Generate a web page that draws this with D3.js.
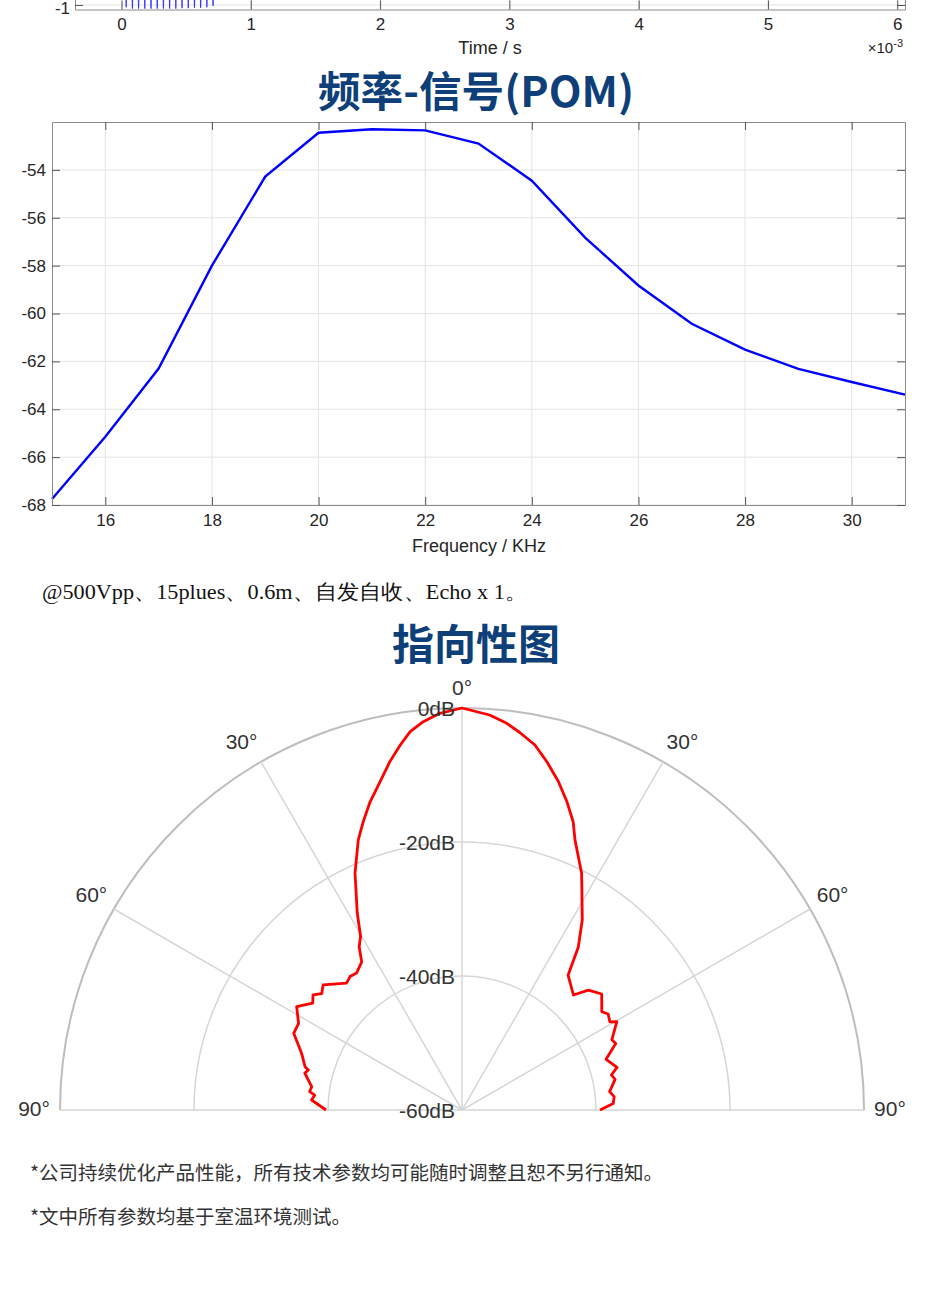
<!DOCTYPE html>
<html>
<head>
<meta charset="utf-8">
<script src="https://cdn.jsdelivr.net/npm/d3@7"></script>
<style>
  body { margin: 0; background: #fff; }
  text { font-family: "Liberation Sans", Arial, sans-serif; }
</style>
</head>
<body>
<script>
// ---- data ----
// cut-off waveform chart (only its bottom edge is visible)
const timeTicks = [0, 1, 2, 3, 4, 5, 6];            // x 10^-3 s
const pulseTime = [0, 0.012, 0.036, 0.060, 0.084, 0.108, 0.132, 0.156, 0.180, 0.204, 0.228,
  0.252, 0.276, 0.300, 0.324, 0.348, 0.372, 0.396, 0.420, 0.444, 0.468, 0.492, 0.516,
  0.540, 0.564, 0.588, 0.612, 0.636, 0.660, 0.684, 0.708, 0.720];
const pulseAmp = [0, 0.9, -1.05, 0.95, -1.08, 0.95, -1.08, 0.96, -1.08, 0.96, -1.08,
  0.96, -1.08, 0.96, -1.08, 0.96, -1.08, 0.96, -1.08, 0.96, -1.07, 0.95, -1.07,
  0.95, -1.06, 0.94, -1.06, 0.93, -1.05, 0.9, -1.02, 0];

// 频率-信号
const freqKHz = [15, 16, 17, 18, 19, 20, 21, 22, 23, 24, 25, 26, 27, 28, 29, 30, 31];
const freqDb = [-67.75, -65.15, -62.3, -58.0, -54.28, -52.45, -52.3, -52.35, -52.9, -54.45,
  -56.83, -58.83, -60.43, -61.51, -62.31, -62.86, -63.39];
const freqXTicks = [16, 18, 20, 22, 24, 26, 28, 30];
const freqYTicks = [-68, -66, -64, -62, -60, -58, -56, -54];

// 指向性图 (angle in degrees, level in dB)
const polarAngle = [-90, -86.2, -84.2, -83.1, -81.2, -76.8, -75.4, -74.6, -70.5, -65.5, -62.1,
  -58, -54.4, -52.3, -50.3, -48, -42.3, -40, -37.6, -34.1, -32.2, -30.3, -28, -24.3, -21,
  -18.9, -16.6, -14, -11.7, -9.6, -7.8, -5.7, -3.2, 0,
  4, 6.6, 8.7, 11.3, 13.7, 16.35, 18.8, 21.1, 22.7, 26.8, 32.3, 35.5, 38.2, 44.1, 46.5,
  50.3, 54.9, 56.7, 59.2, 60.3, 64.9, 66.6, 70.6, 74.6, 76.8, 78.7, 82.9, 85, 87.5, 90];
const polarDb = [-39.7, -37.5, -37.9, -37.1, -37.3, -35.9, -36.3, -35.7, -34.6, -32.4, -32.4,
  -30.9, -32.6, -31.9, -32.8, -32.1, -34.4, -34.0, -34.2, -33.3, -31.2, -30.0, -26.7, -21.2, -16.8,
  -14.5, -12.0, -9.5, -6.9, -4.75, -3.0, -1.76, -0.7, 0,
  -0.9, -1.9, -3.0, -4.45, -6.5, -8.9, -11.4, -13.9, -16.3, -20.4, -26.4, -30.1, -34.4, -36.1, -34.0,
  -32.9, -34.5, -33.9, -34.3, -33.4, -35.3, -35.0, -37.2, -36.0, -37.1, -36.7, -37.8, -37.2, -37.4, -39.4];
const polarRings = [-40, -20, 0];
const ringLabels = [-60, -40, -20, 0];
const polarSpokes = [-90, -60, -30, 0, 30, 60, 90];

const notes = [
  "*公司持续优化产品性能，所有技术参数均可能随时调整且恕不另行通知。",
  "*文中所有参数均基于室温环境测试。"
];

// ---- page ----
const W = 930, H = 1300;
const svg = d3.select("body").append("svg")
  .attr("width", W)
  .attr("height", H);

const axisCol = "#262626";
const boxCol = "#8a8a8a";
const gridCol = "#e3e3e3";
const plain = d => String(d);   // hyphen minus like the matlab export

function styleAxis(g) {
  g.selectAll(".domain").attr("stroke", boxCol);
  g.selectAll(".tick line").attr("stroke", "#555");
  g.selectAll(".tick text")
    .attr("fill", axisCol)
    .style("font-size", "17px")
    .style("font-family", "'Liberation Sans', Arial, sans-serif");
}

// ---- top: time chart remnant ----
const tx = d3.scaleLinear().domain([-0.36, 6.06]).range([75, 905]);
const ty = d3.scaleLinear().domain([-1.1, 1.1]).range([9.5, -90]);

svg.append("defs").append("clipPath")
  .attr("id", "clipTime")
  .append("rect")
  .attr("x", 75).attr("y", -90)
  .attr("width", 830).attr("height", 99.5);

const timeG = svg.append("g");
timeG.append("g")
  .selectAll("line")
  .data(timeTicks)
  .join("line")
  .attr("x1", d => tx(d)).attr("x2", d => tx(d))
  .attr("y1", ty(1.1)).attr("y2", ty(-1.1))
  .attr("stroke", gridCol);
timeG.append("line")
  .attr("x1", 75).attr("x2", 905)
  .attr("y1", ty(-1)).attr("y2", ty(-1))
  .attr("stroke", gridCol);

timeG.append("path")
  .datum(pulseTime.map((t, i) => [t, pulseAmp[i]]))
  .attr("clip-path", "url(#clipTime)")
  .attr("fill", "none")
  .attr("stroke", "#2020ff")
  .attr("stroke-width", 0.8)
  .attr("d", d3.line().x(d => tx(d[0])).y(d => ty(d[1])));

timeG.append("g")
  .attr("transform", `translate(0,${ty(-1.1)})`)
  .call(d3.axisBottom(tx).tickValues(timeTicks).tickFormat(plain)
    .tickSizeInner(-9).tickSizeOuter(0).tickPadding(8))
  .call(styleAxis);
timeG.append("g")
  .attr("transform", "translate(75,0)")
  .call(d3.axisLeft(ty).tickValues([-1]).tickFormat(plain)
    .tickSizeInner(-8).tickSizeOuter(0).tickPadding(5))
  .call(styleAxis)
  .call(g => g.selectAll(".tick text").attr("dy", "0.5em"));
timeG.append("g")
  .attr("transform", "translate(905,0)")
  .call(d3.axisRight(ty).tickValues([-1]).tickSizeInner(-8).tickSizeOuter(0).tickFormat(""))
  .call(styleAxis);

timeG.append("text")
  .attr("x", 490).attr("y", 54)
  .attr("text-anchor", "middle")
  .attr("fill", axisCol)
  .style("font-size", "18px")
  .text("Time / s");
const sci = timeG.append("text")
  .attr("x", 903).attr("y", 53)
  .attr("text-anchor", "end")
  .attr("fill", axisCol)
  .style("font-size", "15px");
sci.append("tspan").text("×10");
sci.append("tspan").attr("dy", -6).style("font-size", "11px").text("-3");

// ---- 频率-信号(POM) ----
svg.append("text")
  .attr("x", 476).attr("y", 107)
  .attr("text-anchor", "middle")
  .attr("fill", "#0e3f78")
  .attr("textLength", 316)
  .attr("lengthAdjust", "spacingAndGlyphs")
  .style("font-family", "'Noto Sans CJK SC', sans-serif")
  .style("font-weight", 700)
  .style("font-size", "42px")
  .text("频率-信号(POM)");

const fx = d3.scaleLinear().domain([15, 31]).range([52, 905]);
const fy = d3.scaleLinear().domain([-68, -52]).range([505, 122]);

const fg = svg.append("g");
fg.append("g")
  .selectAll("line")
  .data(freqXTicks)
  .join("line")
  .attr("x1", d => fx(d)).attr("x2", d => fx(d))
  .attr("y1", fy(-52)).attr("y2", fy(-68))
  .attr("stroke", gridCol);
fg.append("g")
  .selectAll("line")
  .data(freqYTicks)
  .join("line")
  .attr("x1", fx(15)).attr("x2", fx(31))
  .attr("y1", d => fy(d)).attr("y2", d => fy(d))
  .attr("stroke", gridCol);

fg.append("path")
  .datum(freqKHz.map((f, i) => [f, freqDb[i]]))
  .attr("fill", "none")
  .attr("stroke", "#0000ff")
  .attr("stroke-width", 2.4)
  .attr("d", d3.line().x(d => fx(d[0])).y(d => fy(d[1])));

fg.append("g")
  .attr("transform", `translate(0,${fy(-68)})`)
  .call(d3.axisBottom(fx).tickValues(freqXTicks).tickFormat(plain)
    .tickSizeInner(-8).tickSizeOuter(0).tickPadding(9))
  .call(styleAxis);
fg.append("g")
  .attr("transform", `translate(0,${fy(-52)})`)
  .call(d3.axisTop(fx).tickValues(freqXTicks).tickSizeInner(-8).tickSizeOuter(0).tickFormat(""))
  .call(styleAxis);
fg.append("g")
  .attr("transform", `translate(${fx(15)},0)`)
  .call(d3.axisLeft(fy).tickValues(freqYTicks).tickFormat(plain)
    .tickSizeInner(-8).tickSizeOuter(0).tickPadding(6))
  .call(styleAxis);
fg.append("g")
  .attr("transform", `translate(${fx(31)},0)`)
  .call(d3.axisRight(fy).tickValues(freqYTicks).tickSizeInner(-8).tickSizeOuter(0).tickFormat(""))
  .call(styleAxis);

fg.append("text")
  .attr("x", 479).attr("y", 552)
  .attr("text-anchor", "middle")
  .attr("fill", axisCol)
  .style("font-size", "18px")
  .text("Frequency / KHz");

// ---- test condition line ----
svg.append("text")
  .attr("x", 42).attr("y", 599)
  .attr("fill", "#111")
  .attr("textLength", 485)
  .attr("lengthAdjust", "spacingAndGlyphs")
  .style("font-family", "'Liberation Serif', 'Times New Roman', serif")
  .style("font-size", "21px")
  .text("@500Vpp、15plues、0.6m、自发自收、Echo x 1。");

// ---- 指向性图 ----
svg.append("text")
  .attr("x", 476).attr("y", 660)
  .attr("text-anchor", "middle")
  .attr("fill", "#0e3f78")
  .attr("textLength", 168)
  .attr("lengthAdjust", "spacingAndGlyphs")
  .style("font-family", "'Noto Sans CJK SC', sans-serif")
  .style("font-weight", 700)
  .style("font-size", "42px")
  .text("指向性图");

const cx = 462, cy = 1110;
const pr = d3.scaleLinear().domain([-60, 0]).range([0, 402]);
const rad = d => d * Math.PI / 180;

const pg = svg.append("g").attr("transform", `translate(${cx},${cy})`);

pg.append("g")
  .selectAll("path")
  .data(polarRings)
  .join("path")
  .attr("fill", "none")
  .attr("stroke", d => d === 0 ? "#bdbdbd" : "#d6d6d6")
  .attr("stroke-width", d => d === 0 ? 2 : 1.5)
  .attr("d", d => d3.arc()({
    innerRadius: pr(d), outerRadius: pr(d),
    startAngle: -Math.PI / 2, endAngle: Math.PI / 2
  }));

pg.append("g")
  .selectAll("line")
  .data(polarSpokes)
  .join("line")
  .attr("x1", 0).attr("y1", 0)
  .attr("x2", d => pr(0) * Math.sin(rad(d)))
  .attr("y2", d => -pr(0) * Math.cos(rad(d)))
  .attr("stroke", "#d6d6d6")
  .attr("stroke-width", 1.5);

pg.append("path")
  .datum(polarAngle.map((a, i) => [a, polarDb[i]]))
  .attr("fill", "none")
  .attr("stroke", "#ff0000")
  .attr("stroke-width", 2.8)
  .attr("stroke-linejoin", "round")
  .attr("d", d3.lineRadial().angle(d => rad(d[0])).radius(d => pr(d[1])));

pg.append("g")
  .selectAll("text")
  .data(ringLabels)
  .join("text")
  .attr("x", -7)
  .attr("y", d => -pr(d))
  .attr("dy", "0.36em")
  .attr("text-anchor", "end")
  .attr("fill", "#333")
  .style("font-size", "21px")
  .text(d => d + "dB");

// angle labels sit a little outside the spokes (30° ones nudged outward)
pg.append("g")
  .selectAll("text")
  .data(polarSpokes)
  .join("text")
  .attr("x", d => 428 * Math.sin(rad(d + (Math.abs(d) === 30 ? Math.sign(d) : 0))))
  .attr("y", d => d === 0 ? -423 : -428 * Math.cos(rad(d + (Math.abs(d) === 30 ? Math.sign(d) : 0))) - 2)
  .attr("dy", "0.36em")
  .attr("text-anchor", "middle")
  .attr("fill", "#333")
  .style("font-size", "21px")
  .text(d => Math.abs(d) + "°");

// ---- footnotes ----
svg.append("g")
  .selectAll("text")
  .data(notes)
  .join("text")
  .attr("x", 30)
  .attr("y", (d, i) => 1180 + i * 44)
  .attr("fill", "#333")
  .style("font-family", "'Noto Sans CJK SC', sans-serif")
  .style("font-size", "19.5px")
  .text(d => d);
</script>
</body>
</html>
